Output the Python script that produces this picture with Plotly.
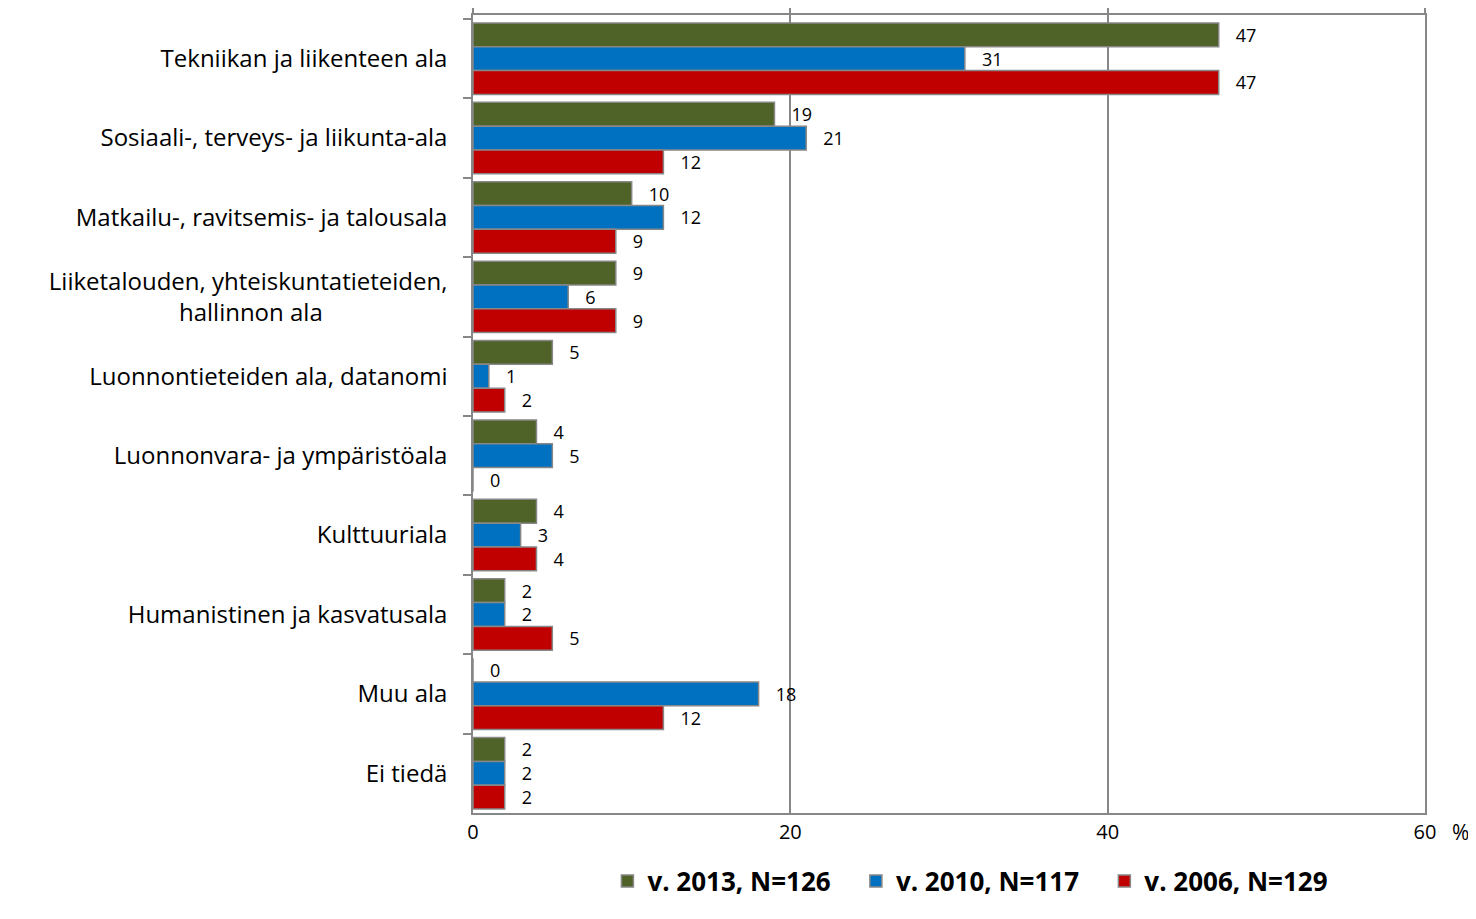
import plotly.graph_objects as go

categories = [
    "Tekniikan ja liikenteen ala",
    "Sosiaali-, terveys- ja liikunta-ala",
    "Matkailu-, ravitsemis- ja talousala",
    "Liiketalouden, yhteiskuntatieteiden,<br>hallinnon ala" + "&nbsp;" * 20,
    "Luonnontieteiden ala, datanomi",
    "Luonnonvara- ja ympäristöala",
    "Kulttuuriala",
    "Humanistinen ja kasvatusala",
    "Muu ala",
    "Ei tiedä",
]
v2013 = [47, 19, 10, 9, 5, 4, 4, 2, 0, 2]
v2010 = [31, 21, 12, 6, 1, 5, 3, 2, 18, 2]
v2006 = [47, 12, 9, 9, 2, 0, 4, 5, 12, 2]
series = [
    ("v. 2013, N=126", v2013, "#4F6228"),
    ("v. 2010, N=117", v2010, "#0070C0"),
    ("v. 2006, N=129", v2006, "#C00000"),
]
x_ticks = [0, 20, 40, 60]

FONT = "Open Sans"
GRAY = "#878787"

fig = go.Figure()
for name, vals, col in series:
    fig.add_trace(go.Bar(
        y=categories, x=vals, name=name + "&nbsp;" * 3, orientation="h",
        marker=dict(color=col, line=dict(color=GRAY, width=1.5)),
        text=vals, texttemplate="   %{x}", textposition="outside",
        constraintext="none",
        textfont=dict(family=FONT, size=18, color="black"),
        cliponaxis=False,
    ))

# invisible trace to draw top tick marks on overlay axis
fig.add_trace(go.Scatter(x=[0, 60], y=[categories[0], categories[0]], xaxis="x2",
                         mode="markers", marker=dict(opacity=0), showlegend=False,
                         hoverinfo="skip"))

fig.update_layout(
    width=1476, height=919,
    paper_bgcolor="white", plot_bgcolor="white",
    margin=dict(l=465, r=59, t=7, b=114, autoexpand=False),
    barmode="group", bargap=0.1, bargroupgap=0,
    font=dict(family=FONT, color="black"),
    xaxis=dict(range=[0, 60], tickvals=x_ticks, showgrid=True, gridcolor=GRAY, gridwidth=1.5,
               showline=True, linecolor=GRAY, linewidth=1.5, mirror=True, zeroline=False,
               ticks="", tickfont=dict(family=FONT, size=20), ticklabelstandoff=0,
               automargin=False),
    xaxis2=dict(range=[0, 60], tickvals=x_ticks, overlaying="x", side="top", anchor="y",
                showgrid=False, showticklabels=False, ticks="outside", ticklen=7,
                tickcolor=GRAY, tickwidth=1.5, zeroline=False, automargin=False),
    yaxis=dict(autorange="reversed", showline=True, linecolor=GRAY, linewidth=1.5, mirror=True,
               ticks="outside", tickson="boundaries", ticklen=8, tickcolor=GRAY, tickwidth=1.5,
               tickfont=dict(family=FONT, size=24), ticklabelstandoff=19, showgrid=False,
               automargin=False),
    legend=dict(orientation="h", x=0.533, xanchor="center", y=-0.056, yanchor="top",
                font=dict(family=FONT, size=26, color="black", weight="bold"),
                itemwidth=30, traceorder="normal", tracegroupgap=0),
    annotations=[dict(text="%", xref="paper", yref="paper", x=1.026, y=-0.004,
                      xanchor="left", yanchor="top", showarrow=False,
                      font=dict(family=FONT, size=21))],
)

fig.write_html("out.html")
